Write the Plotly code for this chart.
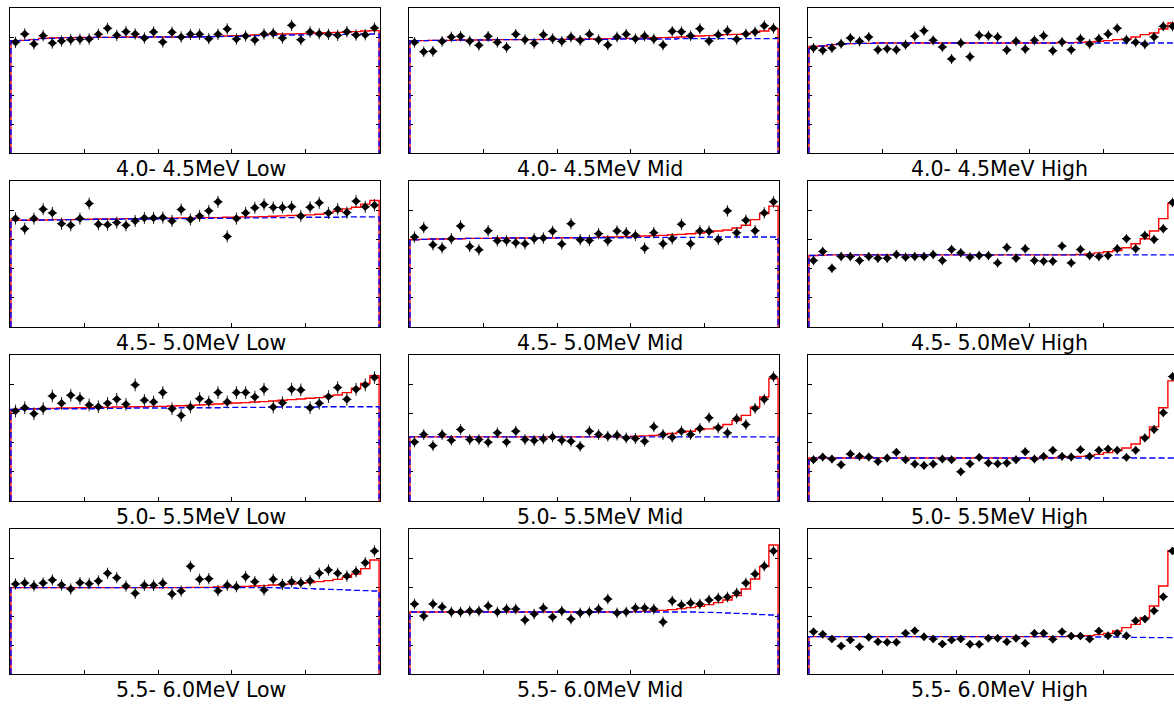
import numpy as np
import plotly.graph_objects as go

# Energy bins (rows) and event categories (columns)
energy_bins = ["4.0- 4.5MeV", "4.5- 5.0MeV", "5.0- 5.5MeV", "5.5- 6.0MeV"]
categories = ["Low", "Mid", "High"]
n_bins = 40

# ---- 4.0-4.5 MeV ----
counts_e1_low = [332, 357, 327, 352, 330, 336, 340, 341, 342, 356, 374, 353, 364, 357, 345, 363, 333, 362, 348, 356,
                 356, 343, 356, 372, 342, 351, 339, 357, 359, 345, 383, 340, 363, 358, 356, 353, 364, 354, 355, 375]
fit_e1_low = [337, 338, 340, 344, 345, 346, 346, 347, 347, 347, 347, 347, 348, 348, 348, 348, 348, 348, 348, 348,
              349, 349, 350, 351, 352, 353, 354, 355, 356, 357, 357, 358, 359, 360, 361, 362, 363, 364, 366, 367]
bkg_e1_low = [337, 338, 340, 343, 344, 345, 346, 346, 346, 347, 347, 347, 347, 347, 348, 348, 348, 348, 348, 348,
              348, 349, 349, 350, 350, 351, 352, 352, 353, 353, 354, 354, 355, 355, 355, 356, 356, 356, 357, 357]

counts_e1_mid = [332, 304, 305, 335, 348, 350, 336, 323, 350, 332, 317, 356, 340, 329, 355, 343, 335, 348, 338, 356,
                 340, 324, 348, 356, 343, 351, 342, 324, 365, 364, 352, 373, 336, 355, 367, 341, 357, 363, 382, 374]
fit_e1_mid = [337, 337, 338, 338, 338, 339, 339, 339, 339, 340, 340, 340, 340, 340, 341, 341, 341, 342, 342, 342,
              342, 343, 343, 344, 344, 345, 346, 346, 347, 348, 349, 351, 352, 353, 355, 356, 358, 362, 366, 373]
bkg_e1_mid = [337, 337, 338, 338, 338, 339, 339, 339, 339, 340, 340, 340, 340, 340, 340, 341, 341, 341, 341, 341,
              341, 341, 342, 342, 342, 342, 342, 342, 342, 343, 343, 343, 343, 343, 343, 343, 343, 343, 343, 343]

counts_e1_high = [315, 308, 315, 328, 345, 335, 348, 310, 313, 310, 325, 350, 367, 338, 318, 282, 330, 289, 353, 352,
                  348, 309, 335, 312, 338, 352, 307, 333, 310, 343, 327, 343, 357, 374, 340, 332, 326, 348, 380, 380]
fit_e1_high = [320, 321, 325, 327, 328, 329, 329, 330, 330, 330, 330, 330, 330, 330, 330, 330, 330, 330, 330, 330,
               330, 330, 330, 330, 330, 330, 330, 331, 331, 332, 333, 335, 337, 340, 342, 348, 355, 360, 372, 390]
bkg_e1_high = [320, 321, 325, 327, 328, 329, 329, 330, 330, 330, 330, 330, 330, 330, 330, 330, 330, 330, 330, 330,
               330, 330, 330, 330, 330, 330, 330, 330, 330, 330, 330, 330, 330, 330, 330, 330, 330, 330, 330, 330]

# ---- 4.5-5.0 MeV ----
counts_e2_low = [323, 293, 323, 351, 340, 308, 303, 323, 368, 306, 305, 311, 303, 316, 325, 325, 326, 316, 350, 320,
                 331, 346, 373, 270, 323, 340, 355, 365, 356, 356, 358, 331, 357, 370, 340, 351, 341, 375, 358, 363]
fit_e2_low = [318, 318, 319, 319, 320, 320, 320, 321, 321, 322, 322, 322, 323, 323, 323, 324, 324, 324, 325, 325,
              325, 326, 326, 327, 327, 328, 328, 329, 330, 331, 332, 333, 334, 336, 340, 345, 352, 357, 366, 377]
bkg_e2_low = [318, 318, 318, 319, 319, 319, 320, 320, 320, 321, 321, 321, 322, 322, 322, 322, 323, 323, 323, 323,
              324, 324, 324, 324, 325, 325, 325, 325, 326, 326, 326, 326, 327, 327, 327, 327, 328, 328, 328, 328]

counts_e2_mid = [268, 296, 245, 236, 263, 301, 240, 230, 287, 257, 257, 251, 248, 263, 265, 285, 247, 308, 260, 258,
                 278, 257, 286, 281, 273, 235, 281, 248, 263, 306, 248, 286, 285, 261, 346, 281, 318, 287, 340, 373]
fit_e2_mid = [260, 261, 262, 262, 263, 263, 264, 264, 264, 265, 265, 265, 265, 265, 265, 265, 266, 266, 266, 266,
              267, 268, 268, 269, 270, 271, 272, 273, 275, 276, 278, 280, 283, 286, 289, 295, 303, 320, 338, 360]
bkg_e2_mid = [260, 261, 262, 262, 263, 263, 264, 264, 264, 265, 265, 265, 265, 265, 265, 265, 266, 266, 266, 266,
              266, 266, 266, 266, 267, 267, 267, 267, 267, 267, 267, 267, 268, 268, 268, 268, 268, 268, 268, 268]

counts_e2_high = [198, 225, 175, 210, 210, 198, 210, 205, 205, 216, 208, 210, 210, 216, 198, 231, 221, 208, 213, 213,
                  191, 237, 205, 233, 198, 196, 196, 241, 191, 231, 213, 210, 213, 233, 263, 233, 273, 261, 293, 371]
fit_e2_high = [213, 214, 215, 215, 215, 215, 215, 215, 215, 215, 215, 215, 215, 215, 215, 215, 215, 215, 215, 215,
               215, 215, 215, 215, 215, 215, 215, 215, 215, 216, 218, 221, 224, 228, 236, 248, 263, 286, 323, 368]
bkg_e2_high = [213, 214, 215, 215, 215, 215, 215, 215, 215, 215, 215, 215, 215, 215, 215, 215, 215, 215, 215, 215,
               215, 215, 215, 215, 215, 215, 215, 215, 215, 215, 215, 215, 215, 215, 215, 215, 215, 215, 215, 215]

# ---- 5.0-5.5 MeV ----
counts_e3_low = [268, 278, 260, 275, 313, 291, 315, 306, 286, 281, 291, 303, 288, 346, 300, 295, 323, 275, 255, 280,
                 305, 295, 323, 295, 323, 323, 310, 333, 280, 293, 333, 331, 278, 291, 311, 338, 303, 333, 346, 368]
fit_e3_low = [273, 274, 275, 276, 276, 277, 277, 278, 278, 279, 279, 280, 280, 281, 281, 282, 282, 283, 284, 285,
              286, 287, 289, 290, 292, 293, 295, 296, 298, 300, 302, 304, 306, 308, 312, 316, 323, 336, 350, 373]
bkg_e3_low = [273, 273, 274, 274, 274, 275, 275, 275, 275, 276, 276, 276, 276, 277, 277, 277, 277, 277, 278, 278,
              278, 278, 278, 279, 279, 279, 279, 279, 280, 280, 280, 280, 280, 280, 281, 281, 281, 281, 281, 281]

counts_e3_mid = [176, 198, 165, 198, 181, 213, 183, 183, 175, 203, 176, 208, 183, 180, 185, 191, 181, 178, 163, 208,
                 198, 193, 196, 188, 186, 178, 221, 198, 190, 208, 198, 216, 248, 218, 203, 245, 228, 276, 303, 370]
fit_e3_mid = [191, 191, 191, 191, 191, 191, 191, 191, 191, 191, 191, 191, 191, 191, 191, 191, 191, 191, 191, 191,
              191, 191, 191, 191, 193, 194, 195, 198, 201, 205, 208, 213, 215, 221, 228, 240, 255, 280, 310, 365]
bkg_e3_mid = [191, 191, 191, 191, 191, 191, 191, 191, 191, 191, 191, 191, 191, 191, 191, 191, 191, 191, 191, 191,
              191, 191, 191, 191, 191, 191, 191, 191, 191, 191, 191, 191, 191, 191, 191, 191, 191, 191, 191, 191]

counts_e3_high = [123, 131, 125, 108, 140, 133, 131, 118, 128, 145, 123, 110, 106, 110, 125, 123, 87, 111, 130, 113,
                  111, 113, 123, 147, 125, 133, 151, 133, 131, 153, 133, 151, 155, 151, 130, 151, 188, 213, 263, 371]
fit_e3_high = [128, 128, 128, 128, 128, 128, 128, 128, 128, 128, 128, 128, 128, 128, 128, 128, 128, 128, 128, 128,
               128, 128, 128, 128, 128, 128, 129, 130, 131, 133, 135, 139, 144, 150, 158, 170, 191, 221, 278, 358]
bkg_e3_high = [128, 128, 128, 128, 128, 128, 128, 128, 128, 128, 128, 128, 128, 128, 128, 128, 128, 128, 128, 128,
               128, 128, 128, 128, 128, 128, 128, 128, 128, 128, 128, 128, 128, 128, 128, 128, 128, 128, 128, 128]

# ---- 5.5-6.0 MeV ----
counts_e4_low = [270, 273, 265, 273, 282, 267, 255, 274, 271, 279, 302, 289, 264, 242, 266, 266, 272, 240, 249, 323,
                 284, 286, 250, 266, 262, 292, 277, 252, 284, 269, 277, 274, 280, 302, 312, 302, 294, 307, 334, 369]
fit_e4_low = [259, 259, 259, 259, 259, 259, 259, 259, 259, 259, 259, 259, 259, 259, 259, 259, 259, 259, 259, 260,
              260, 260, 261, 261, 262, 263, 264, 265, 267, 268, 270, 272, 274, 277, 280, 284, 290, 300, 316, 342]
bkg_e4_low = [259, 259, 259, 259, 259, 259, 259, 259, 259, 259, 259, 259, 259, 259, 259, 259, 259, 259, 259, 259,
              259, 259, 259, 259, 259, 259, 259, 259, 259, 258, 258, 257, 256, 255, 254, 253, 252, 251, 250, 249]

counts_e4_mid = [210, 174, 210, 201, 186, 186, 189, 189, 204, 186, 195, 195, 162, 180, 198, 171, 189, 165, 183, 186,
                 195, 225, 183, 186, 198, 198, 195, 156, 219, 207, 213, 210, 222, 228, 231, 243, 273, 300, 324, 369]
fit_e4_mid = [186, 186, 186, 186, 186, 186, 186, 186, 186, 186, 186, 186, 186, 186, 186, 186, 186, 186, 186, 186,
              186, 186, 186, 186, 187, 188, 189, 191, 193, 196, 199, 203, 208, 214, 222, 235, 255, 285, 322, 387]
bkg_e4_mid = [186, 186, 186, 186, 186, 186, 186, 186, 186, 186, 186, 186, 186, 186, 186, 186, 186, 186, 186, 186,
              186, 186, 186, 186, 186, 186, 186, 186, 186, 186, 186, 185, 185, 184, 183, 182, 181, 180, 178, 177]

counts_e4_high = [127, 119, 105, 84, 102, 82, 110, 97, 95, 95, 122, 130, 112, 105, 90, 102, 105, 89, 89, 107,
                  107, 97, 107, 92, 122, 122, 104, 127, 114, 114, 105, 129, 115, 122, 115, 160, 165, 190, 232, 369]
fit_e4_high = [112, 112, 112, 112, 112, 112, 112, 112, 112, 112, 112, 112, 112, 112, 112, 112, 112, 112, 112, 112,
               112, 112, 112, 112, 112, 112, 112, 112, 113, 114, 115, 118, 122, 129, 139, 149, 169, 204, 264, 370]
bkg_e4_high = [112, 112, 112, 112, 112, 112, 112, 112, 112, 112, 112, 112, 112, 112, 112, 112, 112, 112, 112, 112,
               112, 112, 112, 112, 112, 112, 112, 112, 112, 112, 112, 111, 111, 111, 110, 110, 110, 109, 109, 109]

# Statistical error per bin for each panel (rows: energy, cols: category)
errors = [[17, 16, 15],
          [18, 17, 14],
          [19, 16, 13],
          [17, 16, 12]]

panels = [
    [(counts_e1_low, fit_e1_low, bkg_e1_low), (counts_e1_mid, fit_e1_mid, bkg_e1_mid), (counts_e1_high, fit_e1_high, bkg_e1_high)],
    [(counts_e2_low, fit_e2_low, bkg_e2_low), (counts_e2_mid, fit_e2_mid, bkg_e2_mid), (counts_e2_high, fit_e2_high, bkg_e2_high)],
    [(counts_e3_low, fit_e3_low, bkg_e3_low), (counts_e3_mid, fit_e3_mid, bkg_e3_mid), (counts_e3_high, fit_e3_high, bkg_e3_high)],
    [(counts_e4_low, fit_e4_low, bkg_e4_low), (counts_e4_mid, fit_e4_mid, bkg_e4_mid), (counts_e4_high, fit_e4_high, bkg_e4_high)],
]

# ---- layout geometry (pixels) ----
W, H = 1174, 705
col_px = [(10, 380), (409, 779), (808, 1178)]   # last column runs past the page edge
row_px = [(8, 153), (181, 327), (355, 501), (529, 674)]
x_pad = 0.1
y_max = 435
y_ticks = [87, 174, 261, 348]
x_ticks = [8, 16, 24, 32]

edges = np.arange(n_bins + 1)
centers = edges[:-1] + 0.5
step_x = np.concatenate([[edges[0]], edges])

fig = go.Figure()
layout_axes = {}
annotations = []

for r in range(4):
    for c in range(3):
        idx = r * 3 + c + 1
        xname = "x" if idx == 1 else f"x{idx}"
        yname = "y" if idx == 1 else f"y{idx}"
        counts, fit, bkg = panels[r][c]
        err = errors[r][c]

        # fitted total (red step)
        fig.add_trace(go.Scatter(
            x=step_x, y=[0] + list(fit) + [0], mode="lines", line_shape="hv",
            line=dict(color="#ff0000", width=1.4), xaxis=xname, yaxis=yname,
            hoverinfo="skip"))
        # background component (blue dashed)
        fig.add_trace(go.Scatter(
            x=step_x, y=[0] + list(bkg) + [0], mode="lines", line_shape="hv",
            line=dict(color="#0000ff", width=1.4, dash="6px,3px"), xaxis=xname, yaxis=yname,
            hoverinfo="skip"))
        # data points
        fig.add_trace(go.Scatter(
            x=centers, y=counts, mode="markers",
            marker=dict(symbol="diamond", size=6.5, color="black"),
            error_y=dict(type="constant", value=err, color="#222222", thickness=1, width=0),
            error_x=dict(type="constant", value=0.5, color="#222222", thickness=1, width=0),
            xaxis=xname, yaxis=yname))

        x0, x1 = col_px[c]
        y0, y1 = row_px[r]
        px_per_bin = (x1 - x0) / (n_bins + 2 * x_pad)
        vis_x1 = min(x1, W)
        x_hi = -x_pad + (vis_x1 - x0) / px_per_bin
        last_col = (c == 2)

        layout_axes["xaxis" if idx == 1 else f"xaxis{idx}"] = dict(
            domain=[x0 / W, vis_x1 / W], range=[-x_pad, x_hi],
            anchor=yname, showgrid=False, zeroline=False,
            showline=True, linecolor="black", linewidth=1, mirror=True,
            ticks="inside", ticklen=4, tickcolor="black", tickvals=x_ticks,
            showticklabels=False, layer="below traces", fixedrange=True)
        layout_axes["yaxis" if idx == 1 else f"yaxis{idx}"] = dict(
            domain=[1 - y1 / H, 1 - y0 / H], range=[0, y_max],
            anchor=xname, showgrid=False, zeroline=False,
            showline=True, linecolor="black", linewidth=1,
            mirror=False if last_col else "ticks",
            ticks="inside", ticklen=4, tickcolor="black", tickvals=y_ticks,
            showticklabels=False, layer="below traces", fixedrange=True)

        annotations.append(dict(
            text=f"{energy_bins[r]} {categories[c]}",
            xref="paper", yref="paper",
            x=((x0 + x1) / 2 + 6) / W, y=1 - (y1 + 16) / H,
            xanchor="center", yanchor="middle", showarrow=False,
            font=dict(family="DejaVu Sans", size=20.5, color="black")))

fig.update_layout(
    width=W, height=H, margin=dict(l=0, r=0, t=0, b=0),
    paper_bgcolor="white", plot_bgcolor="white",
    showlegend=False, annotations=annotations, **layout_axes)

fig.write_html("out.html")
